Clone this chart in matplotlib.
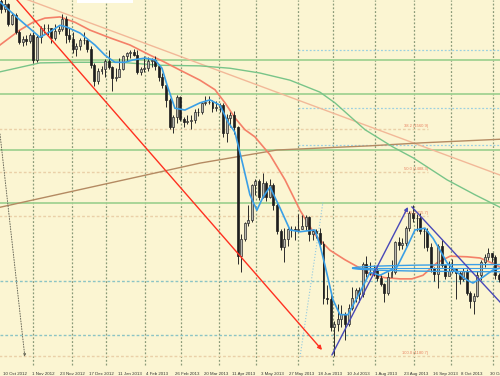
import numpy as np
import matplotlib.pyplot as plt
from matplotlib.patches import Ellipse, Rectangle

# XAUUSD daily (bar 0 = 10 Oct 2012), drawn as 2-day candles
first_open = 1775
closes = [1763, 1770, 1738, 1752, 1723, 1707, 1712, 1708, 1719, 1676,
          1715, 1730, 1730, 1730, 1713, 1726, 1728, 1746, 1718, 1712,
          1696, 1700, 1710, 1711, 1696, 1668, 1642, 1659, 1661, 1675,
          1665, 1646, 1649, 1662, 1683, 1688, 1691, 1685, 1657, 1662,
          1663, 1675, 1677, 1667, 1649, 1635, 1610, 1564, 1581, 1614,
          1578, 1573, 1575, 1577, 1590, 1589, 1604, 1606, 1607, 1596,
          1598, 1601, 1554, 1580, 1585, 1564, 1348, 1376, 1403, 1409,
          1467, 1474, 1447, 1470, 1448, 1468, 1434, 1390, 1364, 1377,
          1393, 1393, 1392, 1393, 1398, 1413, 1385, 1391, 1387, 1368,
          1278, 1277, 1230, 1234, 1243, 1251, 1235, 1262, 1278, 1291,
          1284, 1335, 1320, 1322, 1325, 1311, 1302, 1286, 1313, 1321,
          1371, 1366, 1370, 1396, 1420, 1412, 1412, 1390, 1391, 1363,
          1329, 1318, 1365, 1333, 1315, 1323, 1327, 1320, 1309, 1323,
          1287, 1273, 1282, 1316, 1338, 1347, 1354, 1347, 1316, 1309]
highs = [1786, 1779, 1772, 1756, 1755, 1727, 1717, 1718, 1722, 1723,
         1718, 1733, 1737, 1737, 1730, 1738, 1733, 1754, 1751, 1730,
         1723, 1706, 1713, 1723, 1714, 1701, 1672, 1664, 1667, 1678,
         1693, 1667, 1663, 1680, 1686, 1691, 1694, 1696, 1694, 1665,
         1684, 1682, 1681, 1684, 1670, 1655, 1636, 1613, 1584, 1619,
         1616, 1582, 1584, 1584, 1594, 1597, 1607, 1617, 1617, 1610,
         1608, 1604, 1604, 1587, 1589, 1592, 1567, 1385, 1406, 1433,
         1469, 1477, 1478, 1487, 1474, 1477, 1470, 1438, 1394, 1396,
         1396, 1399, 1398, 1418, 1417, 1417, 1416, 1394, 1394, 1395,
         1374, 1300, 1286, 1240, 1268, 1267, 1255, 1268, 1297, 1295,
         1297, 1338, 1348, 1338, 1333, 1330, 1317, 1303, 1322, 1341,
         1373, 1380, 1378, 1399, 1423, 1434, 1418, 1421, 1395, 1395,
         1370, 1330, 1368, 1375, 1335, 1340, 1343, 1328, 1323, 1328,
         1326, 1290, 1287, 1324, 1342, 1351, 1361, 1353, 1350, 1320]
lows = [1755, 1757, 1733, 1735, 1720, 1704, 1700, 1702, 1706, 1672,
        1673, 1705, 1722, 1718, 1706, 1711, 1721, 1726, 1705, 1707,
        1689, 1684, 1693, 1704, 1690, 1664, 1634, 1636, 1654, 1648,
        1661, 1625, 1642, 1648, 1660, 1675, 1681, 1683, 1654, 1651,
        1657, 1658, 1665, 1660, 1642, 1630, 1598, 1562, 1555, 1571,
        1574, 1565, 1570, 1561, 1572, 1583, 1586, 1602, 1603, 1590,
        1592, 1590, 1548, 1539, 1565, 1553, 1335, 1321, 1373, 1398,
        1405, 1451, 1443, 1446, 1441, 1446, 1425, 1385, 1359, 1338,
        1365, 1380, 1375, 1389, 1393, 1392, 1373, 1375, 1378, 1365,
        1268, 1268, 1223, 1180, 1222, 1229, 1207, 1231, 1257, 1272,
        1271, 1279, 1313, 1316, 1315, 1307, 1298, 1271, 1283, 1316,
        1318, 1358, 1360, 1365, 1390, 1406, 1390, 1385, 1361, 1357,
        1322, 1307, 1295, 1330, 1310, 1316, 1320, 1277, 1302, 1306,
        1283, 1262, 1251, 1280, 1308, 1330, 1342, 1338, 1310, 1305]

# indicator lines (bar index, price)
blue_bar = [-2.2, 8.9, 20.1, 25.7, 31.3, 35.2, 42.5, 50.8, 56.4, 62, 67.6, 72.1, 78.8,
            84.4, 88.3, 91.1, 95.5, 101.1, 109.5, 115.1, 120.7, 125.1, 129, 133.5,
            137.4, 141.3, 144.7, 148.6, 154.2, 159.8, 165.4, 173.7, 176.5, 179.3,
            183.8, 187.7, 192.2, 198.9, 204.5, 210.1, 219.6, 225.1, 229.6, 235.2,
            239.7, 243.6, 247.5, 253.1, 258.7, 262, 267.6, 273.2, 277.1]
blue_val = [1774, 1744, 1715, 1724, 1735, 1732, 1722, 1702, 1685, 1673, 1673, 1677, 1680,
            1677, 1663, 1635, 1596, 1593, 1605, 1610, 1601, 1573, 1556, 1501,
            1451, 1425, 1447, 1464, 1429, 1392, 1389, 1392, 1367, 1333,
            1275, 1250, 1250, 1288, 1321, 1316, 1330, 1363, 1392, 1395,
            1378, 1358, 1337, 1321, 1308, 1303, 1313, 1325, 1328]
red_bar = [-2.2, 8.9, 16.2, 22.9, 31.3, 39.7, 48, 59.2, 70.4, 81.6, 89.9, 98.3, 109.5,
           117.9, 123.5, 129, 134.6, 140.2, 148.6, 157, 165.4, 173.7, 182.1, 190.5,
           198.9, 204.5, 212.8, 221.2, 227.9, 234.1, 241.9, 249.2, 258.7, 265.9,
           271.5, 277.1]
red_val = [1702, 1727, 1740, 1747, 1749, 1740, 1727, 1714, 1702, 1685, 1673, 1660, 1643,
           1627, 1605, 1580, 1560, 1548, 1518, 1476, 1425, 1384, 1358, 1342,
           1328, 1318, 1312, 1310, 1310, 1316, 1337, 1348, 1347, 1345,
           1338, 1330]
green_bar = [-2.2, 20.1, 42.5, 64.8, 87.2, 109.5, 126.3, 143, 159.8, 176.5, 184.9,
             201.7, 217.3, 228.5, 247.5, 263.1, 277.1]
green_val = [1657, 1672, 1673, 1673, 1668, 1667, 1663, 1655, 1643, 1623, 1605,
             1560, 1531, 1513, 1476, 1451, 1430]
brown_bar = [-2.2, 53.6, 109.5, 152.5, 204.5, 233.5, 277.1]
brown_val = [1430, 1467, 1504, 1526, 1533, 1538, 1544]

# drawn objects
trend_bar, trend_val = [-3, 277.1], [1795.9, 1484]
fib_high, fib_low = 1795.9, 1180.7
fib_levels = [38.2, 50.0, 61.8, 100.0]
green_levels = [1676.8, 1619.9, 1526.0, 1437.2]
dotted_full = [1306.4, 1216.0]
dotted_right = [1693.6, 1596.4, 1534.4]

date_labels = ['10 Oct 2012', '1 Nov 2012', '23 Nov 2012', '17 Dec 2012', '11 Jan 2013',
               '4 Feb 2013', '26 Feb 2013', '20 Mar 2013', '11 Apr 2013', '3 May 2013',
               '27 May 2013', '18 Jun 2013', '10 Jul 2013', '1 Aug 2013', '23 Aug 2013',
               '16 Sep 2013', '8 Oct 2013', '30 Oct 2013']
month_bars = [16, 38, 57, 79, 99, 120, 141, 164, 184, 207, 229, 250, 273]

bg = '#fbf5d2'
fig = plt.figure(figsize=(5.0, 3.76), dpi=100, facecolor=bg)
ax = fig.add_axes([0, 0, 1, 1])
ax.set_facecolor(bg)
ax.set_xlim(-2.2, 277.1)
ax.set_ylim(1147.2, 1777.4)
for s in ax.spines.values():
    s.set_visible(False)
ax.set_xticks([])
ax.set_yticks([])

# period separators
for b in month_bars:
    ax.axvline(b, color='#8a9a78', lw=0.9, ls=(0, (1.5, 1.5)), ymin=0.03, zorder=1)

# horizontal levels
for p in green_levels:
    ax.axhline(p, color='#a2d292', lw=1.3, zorder=1)
for p in dotted_full:
    ax.axhline(p, color='#8cc4c4', lw=1.0, ls=(0, (2, 1.5)), zorder=1)
for p in dotted_right:
    ax.plot([164, 277.1], [p, p], color='#9cd0e0', lw=0.9, ls=(0, (1.5, 1.5)), zorder=1)

# fibo retracement
for lev in fib_levels:
    p = fib_high - (fib_high - fib_low) * lev / 100
    x_end = 277.1 if lev == 100.0 else 237
    ax.plot([-3, x_end], [p, p], color='#ead0a8', lw=1.0, ls=(0, (2, 1.5)), zorder=1)
    ax.text(237, p + 2, f'{lev:.1f} ({p:.1f})', fontsize=3.0, color='#e88060',
            ha='right', va='bottom', family='Liberation Sans', zorder=5)

# moving averages
ax.plot(trend_bar, trend_val, color='#f2b898', lw=1.0, zorder=2)
ax.plot(brown_bar, brown_val, color='#b48a62', lw=1.0, zorder=2)
ax.plot(green_bar, green_val, color='#78c488', lw=1.0, zorder=2)
ax.plot(red_bar, red_val, color='#f48068', lw=1.2, zorder=2)

# candles
n = len(closes)
xs = np.arange(-1, n - 1) * 2 + 0.5
opens = np.array([first_open] + closes[:-1])
cl = np.array(closes)
ax.vlines(xs, lows, highs, color='#2a2a2a', lw=0.7, zorder=3)
up = cl >= opens
ax.bar(xs[up], (cl - opens)[up], bottom=opens[up], width=1.1, color='#b8b8b0',
       edgecolor='#2a2a2a', linewidth=0.5, zorder=4)
ax.bar(xs[~up], (cl - opens)[~up], bottom=opens[~up], width=1.1, color='#1e1e1e',
       edgecolor='#1e1e1e', linewidth=0.5, zorder=4)

ax.plot(blue_bar, blue_val, color='#3a9fe6', lw=1.2, zorder=5)

# channel ellipse on the right
ax.add_patch(Ellipse((277.1, 1328), 165, 12, fill=False, edgecolor='#3a9fe6', lw=1.0, zorder=5))
ax.plot([196, 277.1], [1328, 1328], color='#3a9fe6', lw=0.8, zorder=5)

# red arrow
ax.annotate('', xy=(177.7, 1190.8), xytext=(-2.2, 1810),
            arrowprops=dict(arrowstyle='-|>', color='#ff3020', lw=1.0,
                            mutation_scale=6, shrinkA=0, shrinkB=0), zorder=6)
# triangle lines
ax.annotate('', xy=(225.7, 1430.5), xytext=(183.2, 1182.4),
            arrowprops=dict(arrowstyle='-|>', color='#4848b8', lw=1.0,
                            mutation_scale=5, shrinkA=0, shrinkB=0), zorder=6)
ax.plot([227.9, 277.1], [1430.5, 1271.2], color='#4848b8', lw=1.0, zorder=6)
# thin dotted helpers
ax.annotate('', xy=(11.7, 1179.1), xytext=(-2.2, 1552.8),
            arrowprops=dict(arrowstyle='-|>', color='#6a6a5a', lw=0.7, ls=':',
                            mutation_scale=4, shrinkA=0, shrinkB=0), zorder=2)
ax.plot([165.4, 178.2], [1179.1, 1438.8], color='#90c8e0', lw=0.8, ls=':', zorder=2)

# white label box at top
ax.add_patch(Rectangle((0.154, 0.992), 0.112, 0.008, transform=ax.transAxes,
                       facecolor='white', edgecolor='none', zorder=7))

# date labels (the last one runs off the right edge, as in the terminal)
for k, lab in enumerate(date_labels):
    ax.text(16 * k - 0.5, 1151, lab, fontsize=3.2, color='#333333', ha='left', va='center',
            family='Liberation Sans', zorder=7)

fig.savefig('out.png', dpi=100, facecolor=bg)
